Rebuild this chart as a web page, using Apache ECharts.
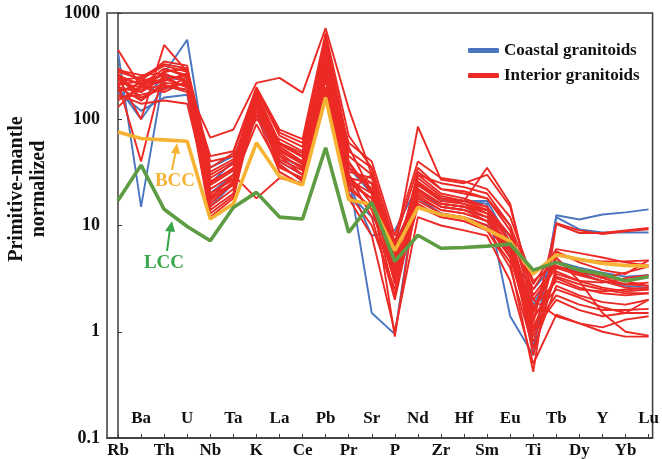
<!DOCTYPE html>
<html><head><meta charset="utf-8">
<script src="https://cdn.jsdelivr.net/npm/echarts@6/dist/echarts.min.js"></script>
<style>html,body{margin:0;padding:0;background:#fff}#c{width:662px;height:459px}</style>
</head><body><div id="c"></div>
<script>
const elements = ['Rb','Ba','Th','U','Nb','Ta','K','La','Ce','Pb','Pr','Sr','P','Nd','Zr','Hf','Sm','Eu','Ti','Tb','Dy','Y','Yb','Lu'];
const yTicks = [0.1, 1, 10, 100, 1000];

const coastal = [
  [430, 15, 270, 560, 25, 40, 130, 50, 40, 300, 30, 1.5, 0.95, 25, 17, 17, 16, 1.4, 0.6, 12.5, 11.4, 12.7, 13.3, 14.2],
  [200, 100, 200, 190, 35, 45, 120, 45, 35, 190, 25, 8, 9, 24, 18, 17, 17, 7, 0.7, 12, 9.2, 8.6, 8.6, 8.6],
  [260, 150, 250, 230, 20, 30, 160, 60, 45, 330, 35, 20, 6, 22, 15, 14, 12, 5, 2.5, 4.6, 4, 3.6, 3.3, 3.4],
  [180, 120, 160, 170, 15, 25, 110, 40, 30, 250, 20, 12, 7, 18, 13, 12, 10, 6, 1.8, 4.5, 3.6, 3.0, 2.7, 2.6]
];

const interior = [
  [450, 200, 280, 300, 25, 35, 170, 60, 45, 400, 35, 25, 3, 25, 18, 16, 13, 6, 1.2, 10.3, 8.5, 8.5, 9, 9.5],
  [220, 40, 300, 250, 18, 30, 150, 50, 38, 300, 30, 12, 2, 20, 15, 14, 11, 5, 0.9, 5.7, 4.5, 3.8, 3.5, 4.7],
  [250, 100, 500, 280, 30, 40, 190, 70, 55, 500, 45, 30, 4, 30, 20, 18, 15, 8, 1.5, 4.6, 3.8, 3.2, 3.6, 4.1],
  [200, 180, 250, 200, 67, 80, 220, 245, 178, 720, 126, 30, 6, 85, 27, 25, 30, 15, 2.2, 4.2, 3.5, 3.0, 2.8, 2.7],
  [180, 220, 230, 260, 15, 22, 160, 45, 30, 350, 25, 18, 3.5, 18, 14, 13, 11, 6, 1.0, 3.7, 3.0, 2.6, 2.4, 2.5],
  [300, 230, 350, 320, 20, 28, 170, 55, 40, 450, 40, 20, 5, 28, 19, 17, 14, 7, 1.3, 3.2, 2.6, 2.3, 2.2, 2.3],
  [270, 160, 200, 220, 14, 20, 130, 35, 28, 250, 20, 10, 2.5, 15, 12, 11, 9, 4, 0.7, 2.7, 2.2, 1.9, 1.8, 2.0],
  [150, 200, 180, 230, 16, 25, 120, 40, 30, 200, 22, 15, 4, 17, 13, 12, 10, 5, 1.1, 2.2, 1.8, 1.6, 1.6, 1.64],
  [230, 250, 330, 300, 40, 45, 100, 65, 50, 550, 50, 35, 7, 35, 22, 20, 18, 9, 2.0, 1.4, 1.2, 1.1, 1.3, 1.4],
  [200, 150, 220, 210, 22, 30, 18, 28, 25, 150, 28, 25, 5, 22, 16, 15, 13, 7, 1.6, 5, 3, 1.5, 1.0, 0.92],
  [260, 210, 300, 260, 28, 38, 180, 60, 48, 420, 38, 22, 4.5, 26, 18, 17, 35, 16, 2.0, 4.0, 3.4, 3.0, 2.6, 2.5],
  [190, 190, 210, 180, 12, 18, 140, 38, 26, 280, 24, 14, 3, 16, 12, 11, 9, 4.5, 0.42, 10.5, 9, 8.3, 8.8, 9.2],
  [170, 140, 150, 140, 18, 24, 110, 32, 24, 180, 18, 8, 1.0, 12, 10, 9, 8, 3, 0.5, 1.45, 1.2, 1.0, 0.9, 0.9],
  [210, 230, 260, 240, 24, 33, 165, 52, 38, 380, 32, 28, 5.5, 24, 17, 16, 14, 8, 2.5, 5.5, 4.8, 4.6, 4.6, 4.7],
  [240, 180, 280, 300, 32, 42, 150, 58, 44, 330, 60, 40, 8, 40, 28, 26, 22, 12, 3, 4.5, 3.8, 3.2, 2.8, 2.9],
  [130, 210, 240, 200, 13, 19, 175, 48, 34, 260, 27, 20, 2.8, 19, 14, 13, 11, 5.5, 0.8, 3.5, 3.0, 2.9, 3.2, 3.4],
  [280, 240, 320, 280, 35, 48, 195, 75, 60, 600, 55, 20, 3.8, 30, 25, 23, 20, 10, 1.7, 3.0, 2.5, 2.4, 2.5, 2.6],
  [160, 170, 190, 250, 17, 26, 90, 36, 27, 200, 21, 30, 6.5, 21, 16, 15, 14, 8, 1.4, 2.5, 2.1, 1.7, 1.5, 1.5],
  [290, 260, 270, 220, 45, 50, 200, 80, 65, 650, 70, 35, 4.2, 32, 22, 21, 18, 10, 2.8, 6.0, 5.5, 5.0, 4.5, 4.2],
  [220, 200, 230, 270, 26, 34, 160, 55, 40, 350, 35, 22, 0.9, 22, 16, 15, 12, 6, 1.0, 2.0, 1.6, 1.4, 1.5, 2.0],
  [240, 220, 260, 230, 20, 27, 145, 42, 33, 230, 26, 18, 3.2, 20, 15, 14, 12, 6.5, 1.1, 3.3, 2.8, 2.5, 2.3, 2.3],
  [260, 150, 210, 190, 19, 25, 135, 45, 36, 280, 30, 16, 2.2, 24, 18, 17, 15, 7, 0.6, 4.1, 3.6, 3.3, 3.0, 2.7]
];

const bcc = [76, 66, 64, 62, 11.5, 16, 60, 29, 24, 160, 17.5, 15.8, 5.8, 14.8, 12.7, 11.8, 9.2, 7.1, 3.5, 5.3, 4.8, 4.4, 4.2, 4.15];
const lcc = [17.2, 37, 14.2, 9.8, 7.2, 14.8, 20.5, 12, 11.5, 54, 8.6, 16.5, 4.6, 8.1, 6.1, 6.2, 6.4, 6.7, 3.8, 4.5, 3.8, 3.5, 3.0, 3.3];

const RED = '#ec2a25', BLUE = '#4a76c0', ORANGE = '#f6b333', GREEN = '#5e9c44';
const FONT = '"Liberation Serif", "Times New Roman", serif';

function toPairs(arr){ return arr.map((v,i)=>[i,v]); }

const series = [];
coastal.forEach(d => series.push({name:'Coastal granitoids', type:'line', data:toPairs(d), symbol:'none', color:BLUE, lineStyle:{width:1.9, color:BLUE}, z:2, silent:true}));
interior.forEach(d => series.push({name:'Interior granitoids', type:'line', data:toPairs(d), symbol:'none', color:RED, lineStyle:{width:1.9, color:RED}, z:3, silent:true}));
series.push({name:'BCC', type:'line', data:toPairs(bcc), symbol:'none', color:ORANGE, lineStyle:{width:3.6, color:ORANGE}, z:4, silent:true});
series.push({name:'LCC', type:'line', data:toPairs(lcc), symbol:'none', color:GREEN, lineStyle:{width:3.6, color:GREEN}, z:5, silent:true});

const evenIdx = elements.map((e,i)=>i).filter(i=>i%2===0);
const oddIdx = elements.map((e,i)=>i).filter(i=>i%2===1);

const chart = echarts.init(document.getElementById('c'), null, {renderer:'canvas'});
chart.setOption({
  animation:false,
  backgroundColor:'#fff',
  grid:{left:107, right:9, top:13, bottom:19, show:true, borderColor:'#3a3a3a', borderWidth:1.5, backgroundColor:'transparent'},
  legend:{
    data:['Coastal granitoids','Interior granitoids'],
    orient:'vertical', left:463, top:37, itemWidth:31, itemHeight:5, itemGap:8,
    icon:'roundRect',
    textStyle:{fontFamily:FONT, fontWeight:'bold', fontSize:17, color:'#111'},
    selectedMode:false
  },
  xAxis:[{
    type:'value', min:-0.4765, max:23.173, gridIndex:0, position:'bottom',
    axisLine:{show:true, lineStyle:{color:'#3a3a3a', width:1.5}},
    axisTick:{show:true, inside:true, length:4, customValues:elements.map((e,i)=>i), lineStyle:{color:'#3a3a3a'}},
    axisLabel:{show:true, customValues:evenIdx, formatter:v=>elements[Math.round(v)], margin:4,
      fontFamily:FONT, fontWeight:'bold', fontSize:17, color:'#111'},
    splitLine:{show:false}
  },{
    type:'value', min:-0.4765, max:23.173, gridIndex:0, position:'bottom',
    axisLine:{show:false}, axisTick:{show:false},
    axisLabel:{show:true, inside:true, customValues:oddIdx, formatter:v=>elements[Math.round(v)], margin:11,
      fontFamily:FONT, fontWeight:'bold', fontSize:17, color:'#111'},
    splitLine:{show:false}
  }],
  yAxis:{
    type:'log', logBase:10, min:0.1, max:1000,
    axisLine:{show:true, lineStyle:{color:'#3a3a3a', width:1.5}},
    axisTick:{show:true, inside:true, length:4, lineStyle:{color:'#3a3a3a'}},
    axisLabel:{margin:7, formatter:v=>String(+v.toPrecision(3)), fontFamily:FONT, fontWeight:'bold', fontSize:18, color:'#111'},
    splitLine:{show:false}, minorTick:{show:false}
  },
  graphic:[
    {type:'text', x:28, y:189, rotation:Math.PI/2,
      style:{text:'Primitive-mantle\nnormalized', x:0, y:0, align:'center', verticalAlign:'middle', textAlign:'center', textVerticalAlign:'middle', lineHeight:22,
        font:'bold 20px ' + FONT, fill:'#111'}},
    {type:'text', x:175, y:181, style:{text:'BCC', align:'center', verticalAlign:'middle', textAlign:'center', textVerticalAlign:'middle', font:'bold 19px ' + FONT, fill:ORANGE}},
    {type:'line', shape:{x1:172, y1:170, x2:176, y2:150}, style:{stroke:ORANGE, lineWidth:2}},
    {type:'polygon', shape:{points:[[177,143],[171,153],[180,154]]}, style:{fill:ORANGE}},
    {type:'text', x:164, y:263, style:{text:'LCC', align:'center', verticalAlign:'middle', textAlign:'center', textVerticalAlign:'middle', font:'bold 19px ' + FONT, fill:'#3aa64a'}},
    {type:'line', shape:{x1:167, y1:251, x2:170, y2:229}, style:{stroke:'#3aa64a', lineWidth:2}},
    {type:'polygon', shape:{points:[[172,221],[165,231],[175,232]]}, style:{fill:'#3aa64a'}}
  ],
  series:series
});
</script></body></html>
